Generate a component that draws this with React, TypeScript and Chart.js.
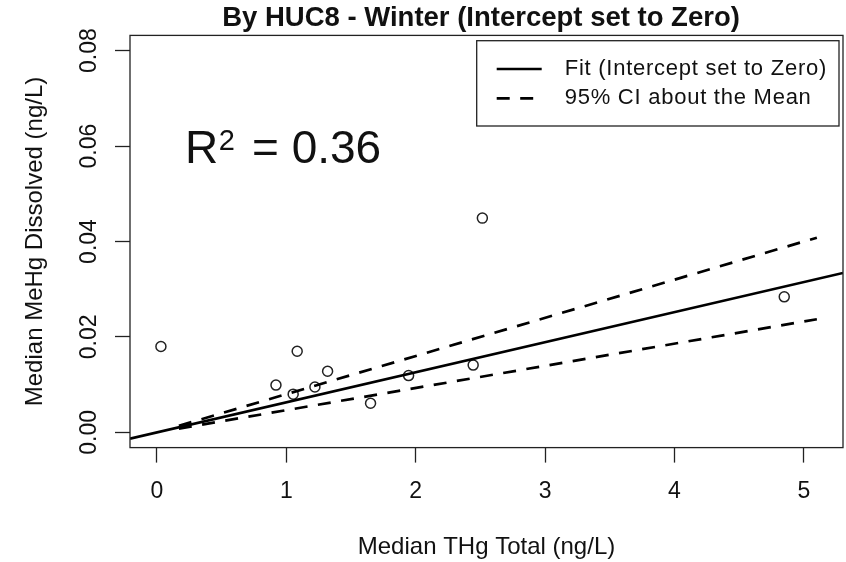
import React, { useEffect, useRef } from 'react';
import { Chart, registerables } from 'chart.js';

Chart.register(...registerables);

// ---- data ----
const thgTotal = [0.031, 0.92, 1.053, 1.084, 1.221, 1.319, 1.651, 1.945, 2.444, 2.515, 4.848];
const mehgDissolved = [0.018, 0.0099, 0.008, 0.017, 0.0095, 0.0128, 0.0061, 0.0119, 0.0141, 0.0449, 0.0284];

const fitX = [-0.208, 5.302];
const fitY = [-0.00131, 0.0334];
const ciX = [0.17, 5.1];
const ciUpperY = [0.00136, 0.0408];
const ciLowerY = [0.00079, 0.0237];

const xTicks = [0, 1, 2, 3, 4, 5];
const xTickLabels = ['0', '1', '2', '3', '4', '5'];
const yTicks = [0, 0.02, 0.04, 0.06, 0.08];
const yTickLabels = ['0.00', '0.02', '0.04', '0.06', '0.08'];
const xRange = [-0.208, 5.302];
const yRange = [-0.0032, 0.0832];

const titleText = 'By HUC8 - Winter (Intercept set to Zero)';
const xTitle = 'Median THg Total (ng/L)';
const yTitle = 'Median MeHg Dissolved (ng/L)';
const legendLabels = ['Fit (Intercept set to Zero)', '95% CI about the Mean'];
const rSquaredValue = '0.36';

const FONT = '"Liberation Sans", Arial, Helvetica, sans-serif';
const INK = '#111';

const decorPlugin = {
  id: 'decor',
  afterDraw(chart: any) {
    const { ctx, chartArea } = chart;
    const { left, top, right, bottom } = chartArea;
    ctx.save();

    // main title
    ctx.fillStyle = INK;
    ctx.font = `bold 27.5px ${FONT}`;
    ctx.textAlign = 'center';
    ctx.textBaseline = 'middle';
    ctx.fillText(titleText, (left + right) / 2 - 5.5, 18.2);

    // plot box
    ctx.strokeStyle = '#222';
    ctx.lineWidth = 1.3;
    ctx.strokeRect(left, top, right - left, bottom - top);

    // legend
    const lx = right - 366.3;
    const ly = top + 5.3;
    const lw = 362.3;
    const lh = 85.3;
    ctx.fillStyle = '#fff';
    ctx.fillRect(lx, ly, lw, lh);
    ctx.strokeRect(lx, ly, lw, lh);
    const rows = [ly + 28.3, ly + 57.6];
    const dsets = [chart.data.datasets[1], chart.data.datasets[2]];
    rows.forEach((ry, i) => {
      const ds = dsets[i];
      ctx.beginPath();
      ctx.setLineDash(ds.borderDash || []);
      ctx.lineWidth = ds.borderWidth;
      ctx.strokeStyle = ds.borderColor;
      ctx.moveTo(lx + 20, ry);
      ctx.lineTo(lx + 65, ry);
      ctx.stroke();
      ctx.setLineDash([]);
      ctx.fillStyle = INK;
      ctx.font = `22px ${FONT}`;
      ctx.textBaseline = 'middle';
      ctx.textAlign = 'left';
      try { (ctx as any).letterSpacing = '0.75px'; } catch (e) {}
      ctx.fillText(legendLabels[i], lx + 88, ry);
      try { (ctx as any).letterSpacing = '0px'; } catch (e) {}
    });

    // R^2 annotation
    ctx.fillStyle = INK;
    ctx.textBaseline = 'alphabetic';
    ctx.textAlign = 'left';
    ctx.font = `46px ${FONT}`;
    const rx = left + 55;
    const rb = top + 128;
    ctx.fillText('R', rx, rb);
    const rw = ctx.measureText('R').width;
    ctx.font = `29px ${FONT}`;
    ctx.fillText('2', rx + rw + 0.5, rb - 13.5);
    ctx.font = `46px ${FONT}`;
    ctx.fillText('= ' + rSquaredValue, rx + 67, rb);
    ctx.restore();
  },
};

const zeroPad = (scale: any) => {
  scale.paddingLeft = 0;
  scale.paddingRight = 0;
  scale.paddingTop = 0;
  scale.paddingBottom = 0;
};

export default function App() {
  const ref = useRef<HTMLCanvasElement | null>(null);

  useEffect(() => {
    if (!ref.current) return;
    const points = thgTotal.map((x, i) => ({ x, y: mehgDissolved[i] }));
    const fit = fitX.map((x, i) => ({ x, y: fitY[i] }));
    const upper = ciX.map((x, i) => ({ x, y: ciUpperY[i] }));
    const lower = ciX.map((x, i) => ({ x, y: ciLowerY[i] }));

    const chart = new Chart(ref.current, {
      type: 'scatter',
      data: {
        datasets: [
          {
            label: 'Observed',
            data: points,
            showLine: false,
            pointStyle: 'circle',
            pointRadius: 5,
            pointBorderWidth: 1.5,
            borderColor: '#222',
            backgroundColor: 'rgba(0,0,0,0)',
            pointBackgroundColor: 'rgba(0,0,0,0)',
            pointBorderColor: '#222',
            order: 3,
          },
          {
            label: legendLabels[0],
            data: fit,
            showLine: true,
            pointRadius: 0,
            borderColor: '#000',
            borderWidth: 2.7,
            order: 2,
          },
          {
            label: legendLabels[1],
            data: upper,
            showLine: true,
            pointRadius: 0,
            borderColor: '#000',
            borderWidth: 2.7,
            borderDash: [13, 10.5],
            order: 1,
          },
          {
            label: legendLabels[1] + ' (lower)',
            data: lower,
            showLine: true,
            pointRadius: 0,
            borderColor: '#000',
            borderWidth: 2.7,
            borderDash: [13, 10.5],
            order: 1,
          },
        ],
      },
      options: {
        responsive: false,
        animation: false,
        events: [],
        layout: { autoPadding: false, padding: { left: 0, right: 3, top: 35.4, bottom: 0 } },
        plugins: {
          legend: { display: false },
          tooltip: { enabled: false },
          title: { display: false },
        },
        scales: {
          x: {
            type: 'linear',
            position: 'bottom',
            min: xRange[0],
            max: xRange[1],
            afterBuildTicks: (scale: any) => {
              scale.ticks = xTicks.map((v) => ({ value: v }));
            },
            afterFit: (scale: any) => {
              scale.height = 114.4;
              zeroPad(scale);
            },
            ticks: {
              autoSkip: false,
              maxRotation: 0,
              minRotation: 0,
              padding: 15.6,
              color: INK,
              font: { family: FONT, size: 23, lineHeight: 1.2 },
              callback: (_v: any, i: number) => xTickLabels[i],
            },
            grid: {
              drawOnChartArea: false,
              drawTicks: true,
              tickLength: 15,
              tickWidth: 1.3,
              tickColor: '#222',
              color: '#222',
            },
            border: { display: false },
            title: {
              display: true,
              text: xTitle,
              color: INK,
              font: { family: FONT, size: 24, lineHeight: 1.2 },
              padding: { top: 0, bottom: 0 },
            },
          },
          y: {
            type: 'linear',
            position: 'left',
            min: yRange[0],
            max: yRange[1],
            afterBuildTicks: (scale: any) => {
              scale.ticks = yTicks.map((v) => ({ value: v }));
            },
            afterFit: (scale: any) => {
              scale.width = 130;
              zeroPad(scale);
            },
            ticks: {
              autoSkip: false,
              minRotation: 90,
              maxRotation: 90,
              crossAlign: 'center',
              padding: 3.3,
              color: INK,
              font: { family: FONT, size: 23, lineHeight: 1.2 },
              callback: (_v: any, i: number) => yTickLabels[i],
            },
            grid: {
              drawOnChartArea: false,
              drawTicks: true,
              tickLength: 15,
              tickWidth: 1.3,
              tickColor: '#222',
              color: '#222',
            },
            border: { display: false },
            title: {
              display: true,
              text: yTitle,
              color: INK,
              font: { family: FONT, size: 24, lineHeight: 1.2 },
              padding: { top: 20.6, bottom: 0 },
            },
          },
        },
      },
      plugins: [decorPlugin],
    } as any);

    return () => chart.destroy();
  }, []);

  return (
    <div style={{ position: 'fixed', left: 0, top: 0, width: 846, height: 562, background: '#fff' }}>
      <canvas ref={ref} width={846} height={562} style={{ width: 846, height: 562, display: 'block' }} />
    </div>
  );
}
